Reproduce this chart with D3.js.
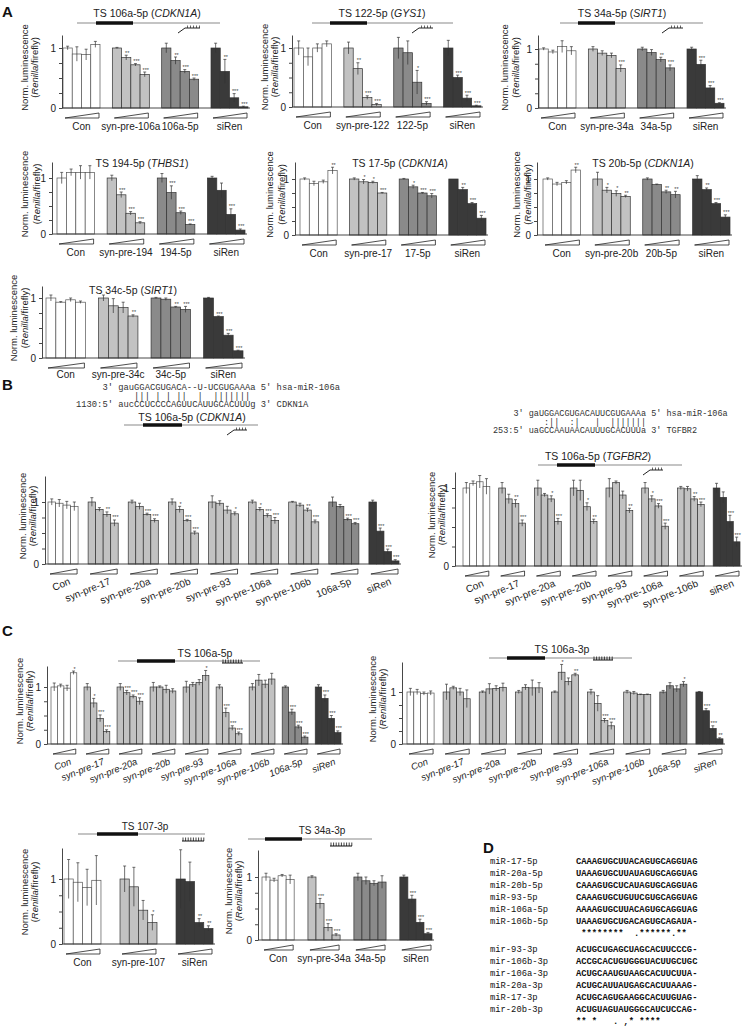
<!DOCTYPE html>
<html>
<head>
<meta charset="utf-8">
<script src="https://cdn.jsdelivr.net/npm/d3@7"></script>
<style>
body{margin:0;background:#fff}
svg{font-family:"Liberation Sans",Arial,sans-serif}
.mono{font-family:"Liberation Mono","DejaVu Sans Mono",monospace;white-space:pre}
</style>
</head>
<body>
<svg id="fig" width="747" height="1028"></svg>
<script>
// ---- data ----
const a1Groups = ["Con","syn-pre-106a","106a-5p","siRen"]
const a1Values = [[1,0.9,0.89,1.06],[1,0.84,0.72,0.56],[1,0.79,0.61,0.48],[1,0.61,0.17,0.02]]
const a1Errors = [[0.03,0.12,0.09,0.05],[0.01,0.04,0.02,0.04],[0.08,0.06,0.03,0.02],[0.08,0.2,0.07,0.01]]
const a1Sig = [["","","",""],["","**","***","***"],["","**","***","***"],["","**","***","***"]]

const a2Groups = ["Con","syn-pre-122","122-5p","siRen"]
const a2Values = [[1,0.85,1.0,1.07],[1,0.65,0.16,0.04],[1,0.92,0.42,0.06],[1,0.5,0.15,0.02]]
const a2Errors = [[0.12,0.15,0.07,0.05],[0.1,0.1,0.03,0.02],[0.18,0.2,0.2,0.03],[0.13,0.04,0.05,0.01]]
const a2Sig = [["","","",""],["","**","***","***"],["","","*","***"],["","***","***","***"]]

const a3Groups = ["Con","syn-pre-34a","34a-5p","siRen"]
const a3Values = [[1,0.95,1.04,0.97],[1,0.93,0.89,0.67],[1,0.94,0.82,0.68],[1,0.74,0.34,0.08]]
const a3Errors = [[0.02,0.03,0.1,0.07],[0.04,0.04,0.04,0.06],[0.03,0.05,0.04,0.05],[0.03,0.07,0.04,0.01]]
const a3Sig = [["","","",""],["","","","***"],["","","**","***"],["","***","***","***"]]

const a4Groups = ["Con","syn-pre-194","194-5p","siRen"]
const a4Values = [[1,1.1,1.1,1.1],[1,0.7,0.37,0.2],[1,0.74,0.38,0.17],[1,0.78,0.35,0.07]]
const a4Errors = [[0.1,0.06,0.12,0.12],[0.05,0.05,0.03,0.02],[0.08,0.12,0.03,0.01],[0.03,0.13,0.1,0.02]]
const a4Sig = [["","","",""],["","***","***","***"],["","***","***","***"],["","","***","***"]]

const a5Groups = ["Con","syn-pre-17","17-5p","siRen"]
const a5Values = [[1,0.92,0.95,1.15],[1,0.95,0.94,0.75],[1,0.86,0.75,0.7],[1,0.81,0.56,0.3]]
const a5Errors = [[0.02,0.04,0.03,0.06],[0.02,0.04,0.02,0.01],[0.01,0.03,0.01,0.04],[0,0.04,0.02,0.05]]
const a5Sig = [["","","","**"],["","*","*","***"],["","*","***","***"],["","**","***","***"]]

const a6Groups = ["Con","syn-pre-20b","20b-5p","siRen"]
const a6Values = [[1,0.91,0.94,1.16],[1,0.8,0.74,0.69],[1,0.9,0.77,0.72],[1,0.81,0.56,0.32]]
const a6Errors = [[0.02,0.03,0.03,0.05],[0.12,0.05,0.05,0.02],[0.02,0.01,0.03,0.06],[0.06,0.03,0.02,0.04]]
const a6Sig = [["","","","**"],["","*","*","**"],["","","**","**"],["","**","***","***"]]

const a7Groups = ["Con","syn-pre-34c","34c-5p","siRen"]
const a7Values = [[1,0.93,0.97,0.93],[1,0.87,0.84,0.7],[1,0.98,0.85,0.81],[1,0.69,0.38,0.12]]
const a7Errors = [[0.05,0.01,0.03,0.02],[0.05,0.12,0.09,0.02],[0.01,0.02,0.01,0.05],[0.01,0.01,0.03,0.01]]
const a7Sig = [["","","",""],["","","","**"],["","","**","***"],["","***","***","***"]]

const bLGroups = ["Con","syn-pre-17","syn-pre-20a","syn-pre-20b","syn-pre-93","syn-pre-106a","syn-pre-106b","106a-5p","siRen"]
const bLValues = [[1,0.98,0.95,0.93],[1,0.88,0.8,0.66],[1,0.93,0.8,0.7],[1,0.88,0.7,0.5],[1,0.98,0.87,0.81],
  [1,0.88,0.78,0.7],[1,0.95,0.87,0.68],[1,0.93,0.72,0.65],[1,0.53,0.2,0.05]]
const bLErrors = [[0.05,0.06,0.06,0.07],[0.07,0.03,0.04,0.05],[0.03,0.05,0.02,0.03],[0.05,0.05,0.02,0.03],[0.1,0.04,0.06,0.03],
  [0.03,0.03,0.03,0.05],[0.01,0.03,0.03,0.03],[0.08,0.03,0.02,0.02],[0.03,0.05,0.04,0.02]]
const bLSig = [["","","",""],["","","**","***"],["","","***","***"],["","*","***","***"],["","","","*"],
  ["","*","***","***"],["","","**","***"],["","","***","***"],["","***","***","***"]]

const bRGroups = ["Con","syn-pre-17","syn-pre-20a","syn-pre-20b","syn-pre-93","syn-pre-106a","syn-pre-106b","siRen"]
const bRValues = [[1,1.06,1.08,1.02],[1,0.86,0.8,0.55],[1,0.91,0.86,0.57],[1,0.97,0.76,0.57],[1,1.07,0.91,0.71],
  [1,0.86,0.77,0.51],[1,0.99,0.86,0.79],[1,0.88,0.57,0.31]]
const bRErrors = [[0.07,0.03,0.08,0.1],[0.07,0.06,0.05,0.04],[0.1,0.02,0.04,0.04],[0.1,0.13,0.05,0.03],[0.12,0.02,0.05,0.03],
  [0.07,0.04,0.03,0.04],[0.02,0.03,0.03,0.03],[0.06,0.07,0.08,0.06]]
const bRSig = [["","","",""],["","","**","***"],["","","*","***"],["","","*","**"],["","","","**"],
  ["","*","***","***"],["","","**","***"],["","","***","***"]]

const cLGroups = bLGroups
const cLValues = [[1,1.02,0.98,1.25],[1,0.72,0.45,0.22],[1,0.9,0.83,0.75],[1,1.0,0.96,0.93],[1,1.04,1.08,1.2],
  [1,0.55,0.28,0.18],[1,1.12,1.05,1.14],[1,0.56,0.3,0.12],[1,0.8,0.45,0.2]]
const cLErrors = [[0.07,0.03,0.05,0.03],[0.06,0.08,0.06,0.03],[0.06,0.04,0.03,0.06],[0.08,0.02,0.07,0.04],[0.1,0.04,0.05,0.09],
  [0.04,0.08,0.04,0.03],[0.06,0.1,0.07,0.1],[0.02,0.05,0.03,0.02],[0.04,0.06,0.05,0.03]]
const cLSig = [["","","","*"],["","*","***","***"],["","***","***","***"],["","","",""],["","","","*"],
  ["","***","***","***"],["","","",""],["","***","***","***"],["","***","***","***"]]

const cRGroups = bLGroups
const cRValues = [[1,1.0,0.97,0.98],[1,1.08,1.0,0.87],[1,1.06,1.07,1.09],[1,1.09,1.08,1.08],[1,1.38,1.2,1.33],
  [1,0.78,0.45,0.35],[1,0.98,0.95,0.95],[1,1.12,1.06,1.15],[1,0.64,0.3,0.1]]
const cRErrors = [[0.07,0.05,0.03,0.04],[0.15,0.03,0.07,0.17],[0.02,0.1,0.05,0.08],[0.03,0.05,0.15,0.1],[0.02,0.15,0.07,0.03],
  [0.05,0.15,0.04,0.07],[0.03,0.03,0.01,0.01],[0.03,0.06,0.06,0.05],[0.01,0.04,0.05,0.02]]
const cRSig = [["","","",""],["","","",""],["","","",""],["","","",""],["","*","","**"],
  ["","","***","***"],["","","",""],["","","","*"],["","***","***","**"]]

const dLGroups = ["Con","syn-pre-107","siRen"]
const dLValues = [[1,0.95,0.87,0.98],[1,0.88,0.52,0.33],[1,0.96,0.33,0.24]]
const dLErrors = [[0.3,0.3,0.28,0.38],[0.2,0.3,0.15,0.12],[0.45,0.3,0.06,0.04]]
const dLSig = [["","","",""],["","","","*"],["","","**","**"]]

const dMGroups = ["Con","syn-pre-34a","34a-5p","siRen"]
const dMValues = [[1,0.95,1.02,0.96],[1,0.58,0.2,0.08],[1,0.94,0.9,0.92],[1,0.65,0.28,0.1]]
const dMErrors = [[0.06,0.03,0.02,0.07],[0.02,0.08,0.06,0.02],[0.06,0.06,0.04,0.1],[0.03,0.06,0.05,0.02]]
const dMSig = [["","","",""],["","***","***","***"],["","","",""],["","***","***","***"]]

const seq5pNames = ["miR-17-5p","miR-20a-5p","miR-20b-5p","miR-93-5p","miR-106a-5p","miR-106b-5p"]
const seq5p = ["CAAAGUGCUUACAGUGCAGGUAG","UAAAGUGCUUAUAGUGCAGGUAG","CAAAGUGCUCAUAGUGCAGGUAG",
  "CAAAGUGCUGUUCGUGCAGGUAG","AAAAGUGCUUACAGUGCAGGUAG","UAAAGUGCUGACAGUGCAGAUA-"]
const seq5pStars = " ********  .******.** "
const seq3pNames = ["mir-93-3p","mir-106b-3p","mir-106a-3p","miR-20a-3p","miR-17-3p","mir-20b-3p"]
const seq3p = ["ACUGCUGAGCUAGCACUUCCCG-","ACCGCACUGUGGGUACUUGCUGC","ACUGCAAUGUAAGCACUUCUUA-",
  "ACUGCAUUAUGAGCACUUAAAG-","ACUGCAGUGAAGGCACUUGUAG-","ACUGUAGUAUGGGCAUCUCCAG-"]
const seq3pStars = "** *   . ,* ****"

const alignCDKN1A = ["     3' gauGGACGUGACA--U-UCGUGAAAa 5' hsa-miR-106a",
                     "           ||| | | ||  |  |||||||",
                     "1130:5' aucCCUCCCCAGUUCAUUGCACUUUg 3' CDKN1A"]
const alignTGFBR2 = ["    3' gaUGGACGUGACAUUCGUGAAAa 5' hsa-miR-106a",
                     "          :||  :|   |  |||||||",
                     "253:5' uaGCCAAUAACAUUUGCACUUUa 3' TGFBR2"]

// ---- drawing ----
const svg = d3.select("#fig")
const ink = "#222"
const fillOf = {con:"#ffffff", syn:"#c2c2c2", mat:"#8a8a8a", si:"#3a3a3a"}
function kindOf(g){
  if (g == "Con") return "con"
  if (g.startsWith("syn")) return "syn"
  if (g == "siRen") return "si"
  return "mat"
}

function drawPanel(p){
  const unit = p.y0 - p.y1
  const y = d3.scaleLinear().domain([0,(p.y0-p.yTop)/unit]).range([p.y0,p.yTop])
  const gx = d3.scaleBand().domain(p.groups).range(p.gx).paddingInner(p.pad).paddingOuter(0)
  const bx = d3.scaleBand().domain([0,1,2,3]).range([0,gx.bandwidth()])
  const g = svg.append("g")
  const labOff = p.labOff || 22

  p.groups.forEach((name,i) => {
    const rows = p.values[i].map((v,j) => ({v:v, e:p.errors[i][j], s:p.sig[i][j], j:j}))
    const gg = g.append("g").attr("transform","translate(" + gx(name) + ",0)")
    const kind = kindOf(name)
    gg.selectAll("rect").data(rows).join("rect")
      .attr("x", d => bx(d.j))
      .attr("y", d => y(d.v))
      .attr("width", bx.bandwidth())
      .attr("height", d => p.y0 - y(d.v))
      .attr("fill", fillOf[kind])
      .attr("stroke", kind == "con" ? "#555" : "#333")
      .attr("stroke-width", 0.7)
    const eb = gg.selectAll("g.err").data(rows.filter(d => d.e > 0)).join("g").attr("class","err")
      .attr("stroke","#333").attr("stroke-width",0.7)
    eb.append("line")
      .attr("x1", d => bx(d.j) + bx.bandwidth()/2).attr("x2", d => bx(d.j) + bx.bandwidth()/2)
      .attr("y1", d => y(d.v - d.e)).attr("y2", d => y(d.v + d.e))
    eb.append("line")
      .attr("x1", d => bx(d.j) + bx.bandwidth()/2 - 1.5).attr("x2", d => bx(d.j) + bx.bandwidth()/2 + 1.5)
      .attr("y1", d => y(d.v + d.e)).attr("y2", d => y(d.v + d.e))
    gg.selectAll("text.sig").data(rows.filter(d => d.s)).join("text").attr("class","sig")
      .attr("x", d => bx(d.j) + bx.bandwidth()/2 + 1)
      .attr("y", d => y(d.v + d.e) - 0.5)
      .attr("text-anchor","middle").attr("font-size",5.5).attr("fill","#444")
      .text(d => d.s)

    // wedge under the group
    const w0 = gx(name) + 2, w1 = gx(name) + gx.bandwidth() - 1
    g.append("path")
      .attr("d", "M" + w0 + "," + (p.y0+10) + "L" + w1 + "," + (p.y0+5) + "L" + w1 + "," + (p.y0+10) + "Z")
      .attr("fill","#fff").attr("stroke",ink).attr("stroke-width",0.8)

    const cx = gx(name) + gx.bandwidth()/2
    if (p.rot) {
      g.append("text")
        .attr("transform","translate(" + (cx + 8) + "," + (p.y0 + 20) + ") rotate(-22)")
        .attr("text-anchor","end").attr("font-size",p.labSize || 10).attr("fill",ink)
        .attr("font-style", p.italic ? "italic" : null)
        .text(name)
    } else {
      g.append("text").attr("x",cx).attr("y",p.y0 + labOff)
        .attr("text-anchor","middle").attr("font-size",p.labSize || 10).attr("fill",ink)
        .text(name)
    }
  })

  // baseline
  g.append("line").attr("x1",p.axisX).attr("x2",p.gx[1] + 2).attr("y1",p.y0).attr("y2",p.y0)
    .attr("stroke","#333").attr("stroke-width",0.9)

  // y axis
  const ax = g.append("g").attr("transform","translate(" + p.axisX + ",0)")
    .call(d3.axisLeft(y).tickValues([0,0.25,0.5,0.75,1]).tickSizeInner(3).tickSizeOuter(0)
      .tickFormat(d => d == 0 ? "0" : d == 1 ? "1" : ""))
  ax.selectAll("path,line").attr("stroke","#333").attr("stroke-width",0.9)
  ax.selectAll("text").attr("font-size",10).attr("fill",ink).attr("font-family","Liberation Sans, Arial, sans-serif")

  // y label
  const my = (p.yTop + p.y0)/2 - 4
  g.append("text").attr("transform","translate(" + (p.axisX - p.lab[0]) + "," + my + ") rotate(-90)")
    .attr("text-anchor","middle").attr("font-size",9.5).attr("fill",ink).text("Norm. luminescence")
  const l2 = g.append("text").attr("transform","translate(" + (p.axisX - p.lab[1]) + "," + my + ") rotate(-90)")
    .attr("text-anchor","middle").attr("font-size",9.5).attr("fill",ink)
  l2.append("tspan").text("(")
  l2.append("tspan").attr("font-style","italic").text("Renilla")
  l2.append("tspan").text("/firefly)")
}

function title(parts, x, yy, size){
  const t = svg.append("text").attr("x",x).attr("y",yy).attr("text-anchor","middle")
    .attr("font-size",size || 10.5).attr("fill",ink)
  parts.forEach((s,i) => t.append("tspan").attr("font-style", i == 1 ? "italic" : null).text(s))
}

function construct(x1, x2, t1, t2, yy, icon, i1, i2){
  const c = svg.append("g")
  c.append("line").attr("x1",x1).attr("x2",x2).attr("y1",yy).attr("y2",yy)
    .attr("stroke","#8a8a8a").attr("stroke-width",1.2)
  c.append("line").attr("x1",t1).attr("x2",t2).attr("y1",yy).attr("y2",yy)
    .attr("stroke","#111").attr("stroke-width",3.5)
  if (icon == "hook") {
    c.append("path").attr("d","M" + i1 + "," + (yy+10) + "L" + (i1+7) + "," + (yy+5) + "L" + i2 + "," + (yy+5))
      .attr("fill","none").attr("stroke","#222").attr("stroke-width",1)
    c.selectAll("line.t").data(d3.range(i1 + 9.5, i2, 3)).join("line").attr("class","t")
      .attr("x1",d => d).attr("x2",d => d).attr("y1",yy+2.5).attr("y2",yy+5)
      .attr("stroke","#222").attr("stroke-width",0.7)
  } else {
    const dy = icon == "comb" ? 2 : 7
    c.append("line").attr("x1",i1).attr("x2",i2).attr("y1",yy+dy).attr("y2",yy+dy)
      .attr("stroke","#111").attr("stroke-width",1)
    c.selectAll("line.t").data(d3.range(i1 + 1, i2, 2.6)).join("line").attr("class","t")
      .attr("x1",d => d).attr("x2",d => d).attr("y1",yy+dy-3.5).attr("y2",yy+dy)
      .attr("stroke","#111").attr("stroke-width",0.8)
  }
}

function panelLetter(s, x, yy){
  svg.append("text").attr("x",x).attr("y",yy).attr("font-size",15).attr("font-weight","bold").attr("fill","#111").text(s)
}

function alignment(lines, x, yy, size){
  svg.selectAll(null).data(lines).join("text").attr("class","mono")
    .attr("x",x).attr("y",(d,i) => yy + i*8.5).attr("font-size",size).attr("fill","#333")
    .text(d => d)
}

// ---- panel A ----
panelLetter("A", 2, 17)
title(["TS 106a-5p (","CDKN1A",")"], 147, 17)
construct(77, 220, 96, 133, 23, "hook", 178, 200)
drawPanel({groups:a1Groups, values:a1Values, errors:a1Errors, sig:a1Sig, axisX:62, gx:[63,248], pad:0.25, y0:108, y1:48, yTop:35, lab:[34,24]})

title(["TS 122-5p (","GYS1",")"], 382, 17)
construct(312, 453, 330, 367, 23, "hook", 412, 433)
drawPanel({groups:a2Groups, values:a2Values, errors:a2Errors, sig:a2Sig, axisX:292, gx:[294,481], pad:0.25, y0:107, y1:48, yTop:35, lab:[24,14]})

title(["TS 34a-5p (","SIRT1",")"], 622, 17)
construct(560, 703, 578, 615, 23, "hook", 662, 683)
drawPanel({groups:a3Groups, values:a3Values, errors:a3Errors, sig:a3Sig, axisX:538, gx:[539,724], pad:0.25, y0:108, y1:49, yTop:35, lab:[30,19]})

title(["TS 194-5p (","THBS1",")"], 142, 167)
drawPanel({groups:a4Groups, values:a4Values, errors:a4Errors, sig:a4Sig, axisX:52, gx:[57,245], pad:0.25, y0:234, y1:178, yTop:162, lab:[24,12]})

title(["TS 17-5p (","CDKN1A",")"], 400, 167)
drawPanel({groups:a5Groups, values:a5Values, errors:a5Errors, sig:a5Sig, axisX:295, gx:[300,486], pad:0.25, y0:235, y1:179, yTop:162, lab:[22,10]})

title(["TS 20b-5p (","CDKN1A",")"], 643, 167)
drawPanel({groups:a6Groups, values:a6Values, errors:a6Errors, sig:a6Sig, axisX:537, gx:[543,730], pad:0.25, y0:235, y1:179, yTop:162, lab:[17,6]})

title(["TS 34c-5p (","SIRT1",")"], 133, 294)
drawPanel({groups:a7Groups, values:a7Values, errors:a7Errors, sig:a7Sig, axisX:42, gx:[46,243], pad:0.25, y0:358, y1:298, yTop:286, lab:[25,14], labOff:20})

// ---- panel B ----
panelLetter("B", 2, 390)
alignment(alignCDKN1A, 76, 390, 8.8)
title(["TS 106a-5p (","CDKN1A",")"], 192, 421)
construct(124, 258, 143, 182, 425, "hook", 227, 247)
drawPanel({groups:bLGroups, values:bLValues, errors:bLErrors, sig:bLSig, axisX:45, gx:[48,399], pad:0.25, y0:564, y1:502, yTop:476, lab:[19,9], rot:true})

alignment(alignTGFBR2, 493, 416, 8.5)
title(["TS 106a-5p (","TGFBR2",")"], 598, 460)
construct(538, 682, 557, 595, 465, "hook", 643, 663)
drawPanel({groups:bRGroups, values:bRValues, errors:bRErrors, sig:bRSig, axisX:455, gx:[463,740], pad:0.25, y0:566, y1:488, yTop:472, lab:[20,10], rot:true})

// ---- panel C ----
panelLetter("C", 2, 636)
title(["TS 106a-5p"], 205, 657)
construct(118, 260, 137, 175, 661, "comb", 222, 243)
drawPanel({groups:cLGroups, values:cLValues, errors:cLErrors, sig:cLSig, axisX:47, gx:[51,341], pad:0.22, y0:744, y1:687, yTop:666, lab:[24,14], rot:true, italic:true, labSize:9.5})

title(["TS 106a-3p"], 562, 653)
construct(489, 632, 507, 545, 658, "comb", 593, 613)
drawPanel({groups:cRGroups, values:cRValues, errors:cRErrors, sig:cRSig, axisX:402, gx:[407,723], pad:0.25, y0:744, y1:692, yTop:662, lab:[26,16], rot:true, italic:true, labSize:9.5})

// ---- bottom row ----
title(["TS 107-3p"], 145, 830, 10)
construct(78, 205, 97, 138, 834, "low", 182, 204)
drawPanel({groups:dLGroups, values:dLValues, errors:dLErrors, sig:dLSig, axisX:62, gx:[64,213], pad:0.34, y0:944, y1:879, yTop:848, lab:[34,24]})

title(["TS 34a-3p"], 322, 834, 10)
construct(248, 372, 265, 302, 839, "low", 330, 352)
drawPanel({groups:dMGroups, values:dMValues, errors:dMErrors, sig:dMSig, axisX:258, gx:[262,432], pad:0.3, y0:940, y1:877, yTop:850, lab:[26,16]})

// ---- panel D ----
panelLetter("D", 483, 853)
const dy0 = 864, dStep = 12
svg.selectAll(null).data(seq5pNames.concat([""], seq3pNames, [""])).join("text").attr("class","mono")
  .attr("x",490).attr("y",(d,i) => dy0 + i*dStep + (i > 6 ? 4 : 0)).attr("font-size",8.8).attr("fill","#111").text(d => d)
svg.selectAll(null).data(seq5p.concat([seq5pStars], seq3p, [seq3pStars])).join("text").attr("class","mono")
  .attr("x",576).attr("y",(d,i) => dy0 + i*dStep + (i > 6 ? 4 : 0)).attr("font-size",8.8).attr("font-weight","bold").attr("fill","#111").text(d => d)
</script>
</body>
</html>
